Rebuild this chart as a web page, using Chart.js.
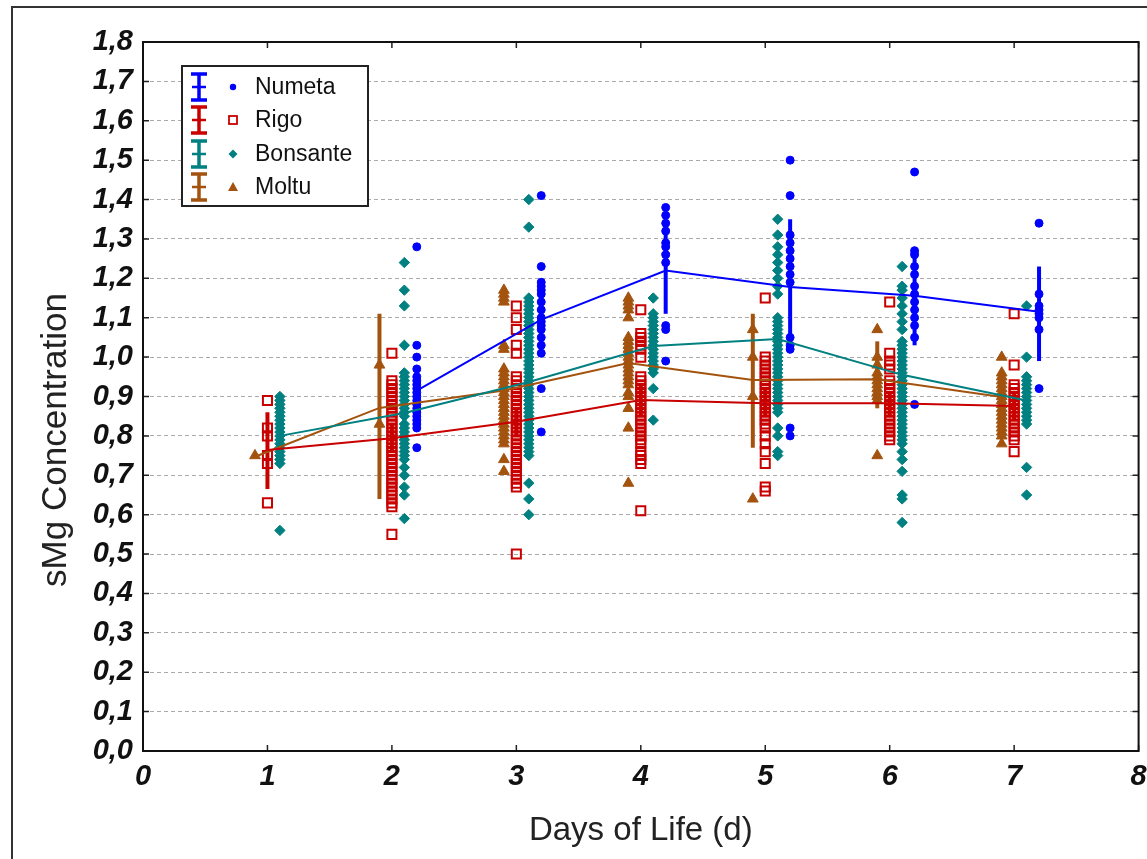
<!DOCTYPE html>
<html>
<head>
<meta charset="utf-8">
<script src="https://cdn.jsdelivr.net/npm/chart.js@4.4.1/dist/chart.umd.min.js"></script>
<style>
  html, body { margin: 0; padding: 0; background: #fff; overflow: hidden; }
  #wrap { position: relative; width: 1147px; height: 859px; }
  #frame { position: absolute; left: 11px; top: 6px; width: 1300px; height: 1000px; border: 2px solid #333; box-sizing: border-box; }
  canvas { position: absolute; left: 0; top: 0; }
</style>
</head>
<body>
<div id="wrap">
  <div id="frame"></div>
  <canvas id="grafico" width="1147" height="859"></canvas>
</div>
<script>
const dias = [1, 2, 3, 4, 5, 6, 7];
const nomes = ['Numeta', 'Rigo', 'Bonsante', 'Moltu'];
const cores = ['#0000ff', '#c80000', '#008080', '#a3530e'];
const deslocamento = [0.2, 0, 0.1, -0.1];

const xTicks = [0, 1, 2, 3, 4, 5, 6, 7, 8];

// medias por dia
const mediaNumeta = [null, 0.915, 1.095, 1.22, 1.178, 1.156, 1.115];
const mediaRigo = [0.764, 0.794, 0.836, 0.891, 0.883, 0.883, 0.876];
const mediaBonsante = [0.80, 0.858, 0.937, 1.028, 1.046, 0.955, 0.89];
const mediaMoltu = [0.747, 0.871, 0.915, 0.985, 0.942, 0.944, 0.899];

// barras de erro (limite inferior / superior)
const infNumeta = [null, 0.87, 1.00, 1.11, 1.01, 1.03, 0.99];
const supNumeta = [null, 0.96, 1.19, 1.33, 1.35, 1.28, 1.23];
const infRigo = [0.665, 0.76, 0.80, 0.85, 0.85, 0.85, 0.84];
const supRigo = [0.86, 0.83, 0.87, 0.93, 0.92, 0.91, 0.91];
const infBonsante = [0.77, 0.83, 0.90, 0.99, 1.01, 0.92, 0.85];
const supBonsante = [0.83, 0.89, 0.97, 1.06, 1.08, 0.99, 0.93];
const infMoltu = [null, 0.64, 0.86, 0.94, 0.77, 0.87, 0.83];
const supMoltu = [null, 1.11, 0.96, 1.03, 1.11, 1.04, 0.96];

// valores individuais por dia
const pontosNumeta = [
  [],
  [1.28, 1.03, 1.00, 0.97, 0.95, 0.94, 0.93, 0.92, 0.91, 0.90, 0.89, 0.88, 0.87, 0.86, 0.85, 0.84, 0.83, 0.82, 0.77],
  [1.41, 1.23, 1.19, 1.18, 1.17, 1.16, 1.14, 1.12, 1.10, 1.09, 1.08, 1.07, 1.05, 1.03, 1.01, 0.92, 0.81],
  [1.38, 1.36, 1.34, 1.32, 1.29, 1.28, 1.26, 1.24, 1.08, 1.07, 0.99],
  [1.50, 1.41, 1.31, 1.29, 1.27, 1.25, 1.23, 1.21, 1.19, 1.05, 1.03, 1.02, 0.82, 0.80],
  [1.47, 1.27, 1.26, 1.23, 1.21, 1.18, 1.16, 1.14, 1.12, 1.10, 1.08, 1.05, 0.88],
  [1.34, 1.16, 1.13, 1.12, 1.11, 1.10, 1.07, 0.92]
];
const pontosRigo = [
  [0.89, 0.82, 0.80, 0.75, 0.73, 0.63],
  [1.01, 0.94, 0.93, 0.92, 0.91, 0.90, 0.89, 0.88, 0.87, 0.86, 0.85, 0.84, 0.83, 0.82, 0.81, 0.80, 0.79, 0.78, 0.77, 0.76, 0.75, 0.74, 0.73, 0.72, 0.71, 0.70, 0.69, 0.68, 0.67, 0.66, 0.65, 0.64, 0.63, 0.62, 0.55],
  [1.13, 1.10, 1.07, 1.03, 1.01, 0.95, 0.94, 0.93, 0.92, 0.91, 0.90, 0.89, 0.88, 0.87, 0.86, 0.85, 0.84, 0.83, 0.82, 0.81, 0.80, 0.79, 0.78, 0.77, 0.76, 0.75, 0.74, 0.73, 0.72, 0.71, 0.70, 0.69, 0.68, 0.67, 0.50],
  [1.12, 1.06, 1.05, 1.04, 1.03, 1.02, 1.00, 0.95, 0.94, 0.93, 0.92, 0.91, 0.90, 0.89, 0.88, 0.87, 0.86, 0.85, 0.84, 0.83, 0.82, 0.81, 0.80, 0.79, 0.78, 0.76, 0.75, 0.74, 0.73, 0.61],
  [1.15, 1.00, 0.99, 0.98, 0.97, 0.96, 0.95, 0.94, 0.93, 0.92, 0.91, 0.90, 0.89, 0.88, 0.87, 0.86, 0.85, 0.84, 0.83, 0.82, 0.80, 0.78, 0.76, 0.73, 0.67, 0.66],
  [1.14, 1.01, 0.99, 0.98, 0.97, 0.94, 0.93, 0.92, 0.91, 0.90, 0.89, 0.88, 0.87, 0.86, 0.85, 0.84, 0.83, 0.82, 0.81, 0.80, 0.79],
  [1.11, 0.98, 0.93, 0.92, 0.91, 0.90, 0.89, 0.88, 0.87, 0.86, 0.85, 0.84, 0.83, 0.82, 0.81, 0.80, 0.79, 0.76]
];
const pontosBonsante = [
  [0.90, 0.89, 0.88, 0.87, 0.86, 0.85, 0.84, 0.83, 0.82, 0.81, 0.80, 0.79, 0.78, 0.77, 0.76, 0.75, 0.74, 0.73, 0.56],
  [1.24, 1.17, 1.13, 1.03, 0.96, 0.95, 0.94, 0.93, 0.92, 0.91, 0.90, 0.89, 0.88, 0.87, 0.86, 0.85, 0.83, 0.82, 0.81, 0.80, 0.79, 0.78, 0.77, 0.76, 0.75, 0.74, 0.72, 0.70, 0.67, 0.65, 0.59],
  [1.40, 1.33, 1.15, 1.14, 1.13, 1.12, 1.11, 1.10, 1.09, 1.08, 1.07, 1.06, 1.05, 1.04, 1.03, 1.02, 1.01, 1.00, 0.99, 0.98, 0.97, 0.96, 0.95, 0.94, 0.93, 0.92, 0.91, 0.90, 0.89, 0.88, 0.87, 0.86, 0.85, 0.84, 0.83, 0.82, 0.81, 0.80, 0.79, 0.78, 0.77, 0.76, 0.75, 0.68, 0.64, 0.60],
  [1.15, 1.11, 1.10, 1.09, 1.08, 1.07, 1.06, 1.05, 1.04, 1.03, 1.02, 1.01, 1.00, 0.99, 0.98, 0.97, 0.96, 0.92, 0.84],
  [1.35, 1.31, 1.28, 1.26, 1.24, 1.22, 1.20, 1.18, 1.16, 1.10, 1.09, 1.08, 1.07, 1.06, 1.05, 1.04, 1.03, 1.02, 1.01, 1.00, 0.99, 0.98, 0.97, 0.96, 0.95, 0.94, 0.93, 0.92, 0.91, 0.90, 0.89, 0.88, 0.87, 0.86, 0.82, 0.80, 0.76, 0.75],
  [1.23, 1.18, 1.17, 1.15, 1.13, 1.11, 1.09, 1.07, 1.04, 1.03, 1.02, 1.01, 1.00, 0.99, 0.98, 0.97, 0.96, 0.95, 0.94, 0.93, 0.92, 0.91, 0.90, 0.89, 0.88, 0.87, 0.86, 0.85, 0.84, 0.83, 0.82, 0.81, 0.80, 0.79, 0.78, 0.76, 0.74, 0.71, 0.65, 0.64, 0.58],
  [1.13, 1.00, 0.95, 0.94, 0.93, 0.92, 0.91, 0.90, 0.89, 0.88, 0.87, 0.86, 0.85, 0.84, 0.83, 0.72, 0.65]
];
const pontosMoltu = [
  [0.75],
  [0.98, 0.83],
  [1.17, 1.16, 1.15, 1.14, 1.03, 1.02, 0.97, 0.96, 0.95, 0.94, 0.93, 0.92, 0.91, 0.90, 0.89, 0.88, 0.87, 0.86, 0.85, 0.84, 0.83, 0.82, 0.81, 0.80, 0.79, 0.78, 0.74, 0.71],
  [1.15, 1.14, 1.13, 1.12, 1.10, 1.05, 1.04, 1.03, 1.02, 1.01, 1.00, 0.99, 0.98, 0.97, 0.96, 0.95, 0.94, 0.93, 0.91, 0.90, 0.87, 0.82, 0.68],
  [1.07, 1.00, 0.90, 0.64],
  [1.07, 1.00, 0.98, 0.96, 0.95, 0.94, 0.93, 0.92, 0.91, 0.90, 0.89, 0.75],
  [1.00, 0.96, 0.95, 0.94, 0.93, 0.92, 0.91, 0.90, 0.89, 0.88, 0.87, 0.86, 0.85, 0.84, 0.83, 0.82, 0.81, 0.80, 0.78]
];

const medias = [mediaNumeta, mediaRigo, mediaBonsante, mediaMoltu];
const inferiores = [infNumeta, infRigo, infBonsante, infMoltu];
const superiores = [supNumeta, supRigo, supBonsante, supMoltu];
const pontos = [pontosNumeta, pontosRigo, pontosBonsante, pontosMoltu];
const estilos = ['circle', 'rect', 'rectRot', 'triangle'];
const raios = [4, 6.4, 5.2, 6.2];

const fonte = "'Liberation Sans', Arial, Helvetica, sans-serif";

function paraPontos(listas, desloc) {
  const out = [];
  listas.forEach((vals, i) => vals.forEach(v => out.push({ x: dias[i] + desloc, y: v })));
  return out;
}

function paraMedias(vals, desloc) {
  return vals.map((v, i) => v == null ? null : { x: dias[i] + desloc, y: v }).filter(p => p);
}

const datasets = [];
// linhas das medias primeiro (ficam por cima)
nomes.forEach((nome, s) => {
  datasets.push({
    type: 'line',
    label: nome + ' média',
    data: paraMedias(medias[s], deslocamento[s]),
    borderColor: cores[s],
    borderWidth: 2,
    pointRadius: 0,
    fill: false,
    tension: 0
  });
});
nomes.forEach((nome, s) => {
  datasets.push({
    type: 'scatter',
    label: nome,
    data: paraPontos(pontos[s], deslocamento[s]),
    pointStyle: estilos[s],
    pointRadius: raios[s],
    pointHoverRadius: raios[s],
    borderColor: cores[s],
    backgroundColor: s === 1 ? 'rgba(0,0,0,0)' : cores[s],
    borderWidth: s === 1 ? 2 : 1
  });
});

const barrasErro = {
  id: 'barrasErro',
  beforeDatasetsDraw(chart) {
    const { ctx, scales: { x, y } } = chart;
    ctx.save();
    ctx.lineWidth = 4;
    nomes.forEach((nome, s) => {
      ctx.strokeStyle = cores[s];
      dias.forEach((d, i) => {
        const lo = inferiores[s][i], hi = superiores[s][i];
        if (lo == null || hi == null) return;
        const px = x.getPixelForValue(d + deslocamento[s]);
        ctx.beginPath();
        ctx.moveTo(px, y.getPixelForValue(lo));
        ctx.lineTo(px, y.getPixelForValue(hi));
        ctx.stroke();
      });
    });
    ctx.restore();
  }
};

const moldura = {
  id: 'moldura',
  afterDraw(chart) {
    const { ctx, chartArea: a, scales: { x, y } } = chart;
    ctx.save();
    // ticks para dentro
    ctx.strokeStyle = '#222';
    ctx.lineWidth = 1.5;
    ctx.beginPath();
    xTicks.forEach(v => {
      const px = x.getPixelForValue(v);
      ctx.moveTo(px, a.bottom); ctx.lineTo(px, a.bottom - 6);
      ctx.moveTo(px, a.top); ctx.lineTo(px, a.top + 6);
    });
    y.ticks.forEach(t => {
      const py = y.getPixelForValue(t.value);
      ctx.moveTo(a.left, py); ctx.lineTo(a.left + 6, py);
      ctx.moveTo(a.right, py); ctx.lineTo(a.right - 6, py);
    });
    ctx.stroke();
    ctx.lineWidth = 2;
    ctx.strokeStyle = '#111';
    ctx.strokeRect(a.left, a.top, a.right - a.left, a.bottom - a.top);

    // titulo do eixo y
    ctx.save();
    ctx.translate(56, 440);
    ctx.rotate(-Math.PI / 2);
    ctx.fillStyle = '#222';
    ctx.font = '35px ' + fonte;
    ctx.textAlign = 'center';
    ctx.textBaseline = 'middle';
    ctx.fillText('sMg Concentration', 0, 0);
    ctx.restore();

    // legenda
    const lx = 182, ly = 66, lw = 186, lh = 140;
    ctx.fillStyle = '#fff';
    ctx.fillRect(lx, ly, lw, lh);
    ctx.strokeStyle = '#222';
    ctx.lineWidth = 2;
    ctx.strokeRect(lx, ly, lw, lh);
    const linhas = [87, 120, 154, 187];
    nomes.forEach((nome, s) => {
      const cy = linhas[s];
      const cx = 199;
      ctx.strokeStyle = cores[s];
      ctx.fillStyle = cores[s];
      ctx.lineWidth = 3.5;
      ctx.beginPath();
      ctx.moveTo(cx, cy - 13); ctx.lineTo(cx, cy + 13);
      ctx.moveTo(cx - 8, cy - 13); ctx.lineTo(cx + 8, cy - 13);
      ctx.moveTo(cx - 8, cy + 13); ctx.lineTo(cx + 8, cy + 13);
      ctx.stroke();
      ctx.lineWidth = 2.5;
      ctx.beginPath();
      ctx.moveTo(cx - 7, cy); ctx.lineTo(cx + 7, cy);
      ctx.stroke();
      const mx = 233;
      ctx.beginPath();
      if (s === 0) {
        ctx.arc(mx, cy, 3.2, 0, Math.PI * 2);
        ctx.fill();
      } else if (s === 1) {
        ctx.lineWidth = 1.8;
        ctx.strokeRect(mx - 4, cy - 4, 8, 8);
      } else if (s === 2) {
        ctx.moveTo(mx, cy - 4.5); ctx.lineTo(mx + 4.5, cy); ctx.lineTo(mx, cy + 4.5); ctx.lineTo(mx - 4.5, cy);
        ctx.closePath(); ctx.fill();
      } else {
        ctx.moveTo(mx, cy - 5); ctx.lineTo(mx + 5, cy + 4); ctx.lineTo(mx - 5, cy + 4);
        ctx.closePath(); ctx.fill();
      }
      ctx.fillStyle = '#111';
      ctx.font = '23px ' + fonte;
      ctx.textBaseline = 'middle';
      ctx.textAlign = 'left';
      ctx.fillText(nome, 255, cy + 1);
    });
    ctx.restore();
  }
};

new Chart(document.getElementById('grafico'), {
  data: { datasets: datasets },
  options: {
    responsive: false,
    animation: false,
    layout: { padding: { top: 42, right: 8, left: 0, bottom: 0 } },
    plugins: {
      legend: { display: false },
      tooltip: { enabled: false }
    },
    scales: {
      x: {
        type: 'linear',
        min: 0,
        max: 8,
        afterBuildTicks: scale => { scale.ticks = xTicks.map(v => ({ value: v })); },
        afterFit: scale => { scale.height = 108; scale.paddingLeft = 0; scale.paddingRight = 0; },
        grid: { display: false, drawTicks: false },
        border: { display: false },
        ticks: {
          color: '#111',
          padding: 9,
          maxRotation: 0,
          font: { family: fonte, size: 29, weight: 'bold', style: 'italic' },
          callback: v => String(v)
        },
        title: {
          display: true,
          text: 'Days of Life (d)',
          color: '#222',
          font: { family: fonte, size: 33 },
          padding: { top: 0, bottom: 8 }
        }
      },
      y: {
        type: 'linear',
        min: 0,
        max: 1.8,
        ticks: {
          stepSize: 0.1,
          color: '#111',
          padding: 10,
          font: { family: fonte, size: 29, weight: 'bold', style: 'italic' },
          callback: v => v.toFixed(1).replace('.', ',')
        },
        afterFit: scale => { scale.width = 143; },
        grid: { color: '#aaaaaa', lineWidth: 1, drawTicks: false },
        border: { display: false, dash: [4, 3] },
        title: { display: false }
      }
    }
  },
  plugins: [barrasErro, moldura]
});
</script>
</body>
</html>
